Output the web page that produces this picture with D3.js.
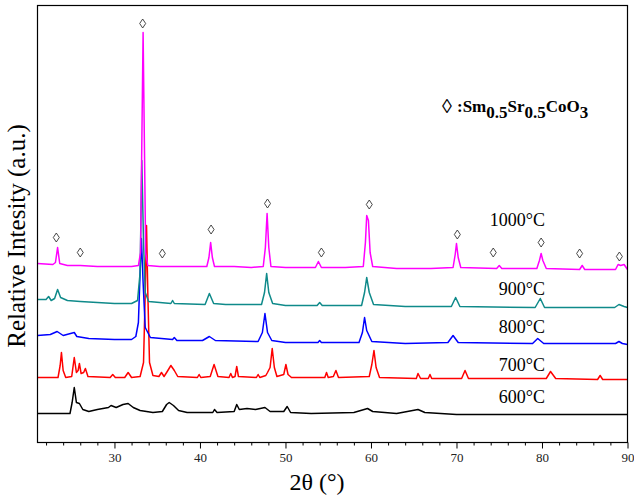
<!DOCTYPE html>
<html>
<head>
<meta charset="utf-8">
<script src="https://cdn.jsdelivr.net/npm/d3@7.9.0/dist/d3.min.js"></script>
<style>
  body { margin: 0; background: #fff; }
  svg text { font-family: "Liberation Serif", "DejaVu Serif", serif !important; }
</style>
</head>
<body>
<svg id="chart" width="634" height="496"></svg>
<script>
// 2θ (deg) vs relative intensity (a.u., patterns already stacked)
const labels = ['600°C', '700°C', '800°C', '900°C', '1000°C'];
const colors = ['#000000', '#ff0000', '#0000ff', '#0f8a8a', '#ff00ff'];

const s600 = [
  [21, 29], [24.8, 29], [25.05, 40], [25.3, 55], [25.55, 40], [25.9, 39], [26.3, 33], [27, 31],
  [28, 33], [29.3, 35], [29.6, 37], [30.2, 35], [31, 38], [31.6, 39], [32.2, 35], [33, 32],
  [34.5, 30], [35.6, 31], [36.1, 38], [36.4, 40], [36.9, 37], [37.5, 32], [38.5, 30], [41.5, 30],
  [41.7, 33], [42, 30], [44, 31], [44.3, 38], [44.6, 33], [45.5, 34], [46.5, 33], [47.6, 35],
  [48.2, 31], [49.8, 31], [50.2, 36], [50.6, 30], [53, 29], [58, 30], [59.6, 34], [60.2, 31],
  [63, 29], [65.5, 33], [66.3, 30], [70, 28], [90, 28]
];
const s700 = [
  [21, 65], [23.4, 65], [23.65, 77], [23.8, 90], [24, 72], [24.3, 65], [25, 66], [25.3, 85],
  [25.55, 70], [25.75, 72], [25.9, 79], [26.1, 69], [26.4, 70], [26.6, 74], [26.9, 66], [29.5, 65],
  [29.8, 68], [30.1, 65], [31.2, 65], [31.6, 70], [32, 65], [33, 66], [33.4, 80], [33.6, 150],
  [33.75, 217], [33.9, 150], [34.1, 80], [34.5, 67], [35.2, 66], [35.5, 70], [35.8, 66], [36.1, 70],
  [36.6, 77], [37, 72], [37.4, 66], [39.7, 65], [39.9, 68], [40.1, 65], [41.2, 66], [41.65, 78],
  [42.1, 66], [43.4, 65], [43.6, 69], [43.8, 65], [44.1, 66], [44.3, 76], [44.5, 66], [46.6, 65],
  [46.8, 68], [47, 65], [47.7, 67], [47.9, 70], [48.2, 75], [48.45, 94], [48.7, 75], [49, 66],
  [49.8, 68], [50.05, 78], [50.3, 68], [50.7, 65], [54.6, 65], [54.8, 70], [55, 65], [55.6, 66],
  [55.9, 72], [56.2, 65], [59.8, 66], [60.1, 78], [60.35, 92], [60.6, 75], [61, 65], [65.3, 64],
  [65.5, 69], [65.8, 64], [66.7, 64], [66.9, 68], [67.1, 64], [70.6, 64], [71, 72], [71.4, 64],
  [80.5, 64], [81, 71], [81.6, 64], [86.5, 63], [86.8, 67], [87.1, 63], [90, 63]
];
const s800 = [
  [21, 107], [22.5, 108], [23.3, 111], [24, 107], [25.3, 110], [25.6, 106], [27, 104], [30, 103],
  [32, 103], [32.5, 106], [32.8, 120], [33, 170], [33.15, 204], [33.35, 160], [33.6, 115], [34.2, 105],
  [36.8, 103], [37, 105], [37.3, 102], [40.3, 102], [41.1, 106], [41.8, 102], [46.8, 101], [47.3, 110],
  [47.6, 129], [47.9, 110], [48.4, 102], [50, 100], [53.8, 100], [54, 102], [54.2, 100], [58.6, 100],
  [59, 110], [59.25, 125], [59.5, 112], [60.1, 101], [64, 99], [69, 100], [69.6, 107], [70.2, 100],
  [78.9, 99], [79.5, 104], [80.2, 99], [88.6, 99], [89, 101], [89.4, 99], [90, 98]
];
const s900 = [
  [21, 143], [22, 143], [22.3, 146], [22.6, 142], [23, 144], [23.35, 153], [23.7, 145], [24.5, 142],
  [26, 141], [28, 140], [30, 139], [32, 139], [32.7, 142], [33, 170], [33.2, 282], [33.4, 200],
  [33.6, 150], [34, 141], [36.6, 139], [36.8, 142], [37, 139], [40.6, 138], [41.1, 149], [41.6, 139],
  [43, 138], [47.2, 138], [47.55, 150], [47.8, 169], [48.05, 150], [48.5, 139], [50, 137], [53.7, 137],
  [54, 140], [54.3, 137], [58.9, 137], [59.25, 150], [59.5, 165], [59.8, 150], [60.3, 138], [64, 136],
  [69.4, 136], [69.9, 145], [70.4, 136], [79.2, 135], [79.8, 144], [80.3, 135], [88.5, 135], [89, 138],
  [89.6, 136], [90, 135]
];
const s1000 = [
  [21, 179], [22.8, 178], [23.1, 180], [23.35, 195], [23.6, 179], [24.5, 177], [26, 177], [28, 176],
  [30, 176], [32, 176], [32.8, 177], [33.05, 190], [33.2, 300], [33.35, 410], [33.5, 300], [33.65, 190],
  [33.9, 177], [35.3, 176], [37, 176], [39, 176], [40.8, 176], [41.05, 185], [41.25, 200], [41.45, 185],
  [41.7, 176], [44, 176], [46, 175], [47.4, 176], [47.65, 195], [47.85, 229], [48.05, 195], [48.3, 176],
  [50, 175], [53.5, 175], [53.85, 181], [54.2, 175], [57, 175], [59.1, 176], [59.35, 200], [59.5, 227],
  [59.7, 222], [59.9, 190], [60.2, 176], [63, 174], [67, 174], [69.6, 175], [69.85, 188], [70, 199],
  [70.2, 185], [70.5, 175], [74.7, 174], [75, 177], [75.3, 174], [79.4, 174], [79.7, 182], [79.9, 189],
  [80.1, 182], [80.5, 174], [84.4, 173], [84.7, 177], [85, 173], [88.6, 173], [88.9, 178], [89.2, 177],
  [89.6, 178], [90, 173]
];
const series = [s600, s700, s800, s900, s1000];

// label baseline heights (a.u.)
const labelY = [40, 72, 110, 148, 217];

// ◊ reflections Sm0.5Sr0.5CoO3 (2θ, a.u.)
const markers = [
  [23.2, 205], [26.0, 190], [33.3, 419], [35.6, 189], [41.3, 213], [47.9, 239], [54.2, 190],
  [59.8, 238], [70.1, 208], [74.3, 190], [79.9, 200], [84.4, 189], [89.05, 186]
];

const majorTicks = [30, 40, 50, 60, 70, 80, 90];
const minorTicks = d3.range(22, 90, 2).filter(t => t % 10 !== 0);

const margin = { left: 37.5, right: 6.5, top: 5.5, bottom: 53.5 };
const W = 634, H = 496;

const x = d3.scaleLinear().domain([21, 90]).range([margin.left, W - margin.right]);
const y = d3.scaleLinear().domain([0, 437]).range([H - margin.bottom, margin.top]);

const svg = d3.select('#chart');

// minor ticks
svg.append('g')
  .attr('transform', `translate(0,${H - margin.bottom})`)
  .call(d3.axisBottom(x).tickValues(minorTicks).tickSize(3).tickFormat(''))
  .call(g => g.select('.domain').remove());

// major ticks
svg.append('g')
  .attr('transform', `translate(0,${H - margin.bottom})`)
  .call(d3.axisBottom(x).tickValues(majorTicks).tickSize(6).tickPadding(4).tickFormat(d3.format('d')))
  .call(g => g.select('.domain').remove())
  .call(g => g.selectAll('text').attr('font-size', 13).attr('fill', '#222'));

let line = d3.line().x(d => x(d[0])).y(d => y(d[1]));

series.forEach((s, i) => {
  svg.append('path')
    .attr('d', line(s))
    .attr('fill', 'none')
    .attr('stroke', colors[i])
    .attr('stroke-width', 1.5)
    .attr('stroke-linejoin', 'round');
});

// frame
svg.append('rect')
  .attr('x', margin.left).attr('y', margin.top)
  .attr('width', W - margin.left - margin.right)
  .attr('height', H - margin.top - margin.bottom)
  .attr('fill', 'none').attr('stroke', '#000').attr('stroke-width', 1.2);

// series labels
labels.forEach((l, i) => {
  svg.append('text')
    .attr('x', 545).attr('y', y(labelY[i]))
    .attr('text-anchor', 'end')
    .attr('font-size', 18)
    .text(l);
});

// diamond markers
svg.selectAll('.mk').data(markers).enter()
  .append('path')
  .attr('class', 'mk')
  .attr('d', 'M0,-4.5L3,0L0,4.5L-3,0Z')
  .attr('transform', d => `translate(${x(d[0])},${y(d[1])})`)
  .attr('fill', 'none').attr('stroke', '#333').attr('stroke-width', 0.9);

// legend
svg.append('text').attr('x', 442).attr('y', 113).attr('font-size', 20).text('◊');
let leg = svg.append('text').attr('x', 457).attr('y', 112).attr('font-size', 17).attr('font-weight', 'bold');
leg.append('tspan').text(':Sm');
leg.append('tspan').attr('dy', 6).text('0.5');
leg.append('tspan').attr('dy', -6).text('Sr');
leg.append('tspan').attr('dy', 6).text('0.5');
leg.append('tspan').attr('dy', -6).text('CoO');
leg.append('tspan').attr('dy', 6).text('3');

// axis titles
svg.append('text')
  .attr('x', 317).attr('y', 490)
  .attr('text-anchor', 'middle')
  .attr('font-size', 24)
  .text('2θ (°)');

svg.append('text')
  .attr('transform', 'translate(25,236) rotate(-90)')
  .attr('text-anchor', 'middle')
  .attr('font-size', 25)
  .text('Relative Intesity (a.u.)');
</script>
</body>
</html>
